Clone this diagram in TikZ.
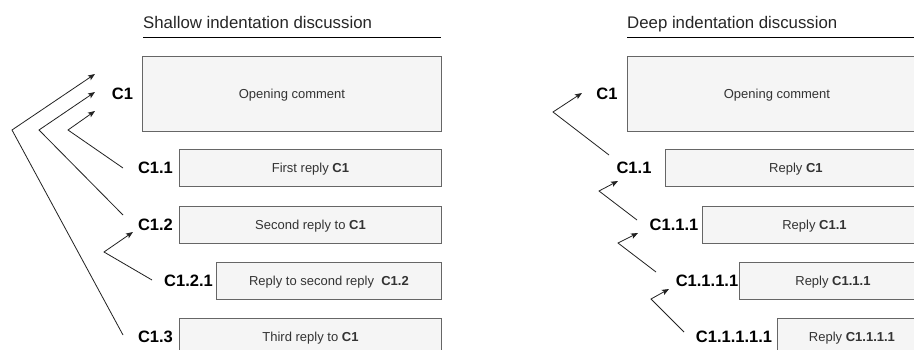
\documentclass[tikz,border=0pt]{standalone}
\usepackage{fontspec}
\setmainfont{Liberation Sans}
\usetikzlibrary{arrows.meta}
\definecolor{boxfill}{HTML}{F5F5F5}
\definecolor{boxline}{HTML}{666666}
\definecolor{boxtext}{HTML}{333333}
\definecolor{linkc}{HTML}{222222}
\begin{document}
\begin{tikzpicture}[x=1pt,y=-1pt,
  cbox/.style={draw=boxline, fill=boxfill, line width=0.9pt, inner sep=0pt, anchor=north west,
    text=boxtext, font=\fontsize{13}{15}\selectfont, text height=9.4pt, text depth=0pt},
  clabel/.style={font=\fontsize{16.5}{18}\selectfont\bfseries, inner sep=0pt, text height=11.8pt, text depth=0pt},
  ttl/.style={font=\fontsize{16.8}{19}\selectfont, anchor=base west, inner sep=0pt, text=black!85},
  rule/.style={draw=black, line width=0.9pt},
  link/.style={draw=linkc, line width=0.8pt, -{Stealth[length=7pt,width=5.5pt,inset=1.5pt]}}]
\useasboundingbox (0,0) rectangle (914,350);
\clip (0,0) rectangle (914,350);
\fill[white] (0,0) rectangle (914,350);

% ---------- Left: shallow ----------
\node[ttl] (tl) at (143,29) {Shallow indentation discussion};
\coordinate (tla) at (143,37);
\coordinate (tlb) at (441,37);
\draw[rule] (tla) -- (tlb);

\node[cbox, minimum width=299pt, minimum height=75pt] (bl1) at (142,56) {Opening comment};
\node[cbox, minimum width=262pt, minimum height=37pt] (bl11) at (179,149) {First reply \textbf{C1}};
\node[cbox, minimum width=262pt, minimum height=37pt] (bl12) at (179,206) {Second reply to \textbf{C1}};
\node[cbox, minimum width=225pt, minimum height=37pt] (bl121) at (216,262) {Reply to second reply\ \ \textbf{C1.2}};
\node[cbox, minimum width=262pt, minimum height=37pt] (bl13) at (179,318) {Third reply to \textbf{C1}};

\node[clabel] (ll1) at (122.5,94) {C1};
\node[clabel] (ll11) at (155.5,168) {C1.1};
\node[clabel] (ll12) at (155.5,225) {C1.2};
\node[clabel] (ll121) at (188.5,281) {C1.2.1};
\node[clabel] (ll13) at (155.5,337) {C1.3};

\coordinate (a1s) at (123,335); \coordinate (a1k) at (12,130); \coordinate (a1t) at (95,74);
\coordinate (a2s) at (123,215); \coordinate (a2k) at (39,130); \coordinate (a2t) at (95,92);
\coordinate (a3s) at (123,168); \coordinate (a3k) at (68,130); \coordinate (a3t) at (95,111);
\coordinate (a4s) at (152,280); \coordinate (a4k) at (104,252); \coordinate (a4t) at (133,232);
\draw[link] (a1s) -- (a1k) -- (a1t);
\draw[link] (a2s) -- (a2k) -- (a2t);
\draw[link] (a3s) -- (a3k) -- (a3t);
\draw[link] (a4s) -- (a4k) -- (a4t);

% ---------- Right: deep ----------
\node[ttl] (tr) at (627,29) {Deep indentation discussion};
\coordinate (tra) at (627,37);
\coordinate (trb) at (926,37);
\draw[rule] (tra) -- (trb);

\node[cbox, minimum width=299pt, minimum height=75pt] (br1) at (627,56) {Opening comment};
\node[cbox, minimum width=261pt, minimum height=37pt] (br11) at (665,149) {Reply \textbf{C1}};
\node[cbox, minimum width=224pt, minimum height=37pt] (br111) at (702,206) {Reply \textbf{C1.1}};
\node[cbox, minimum width=187pt, minimum height=37pt] (br1111) at (739,262) {Reply \textbf{C1.1.1}};
\node[cbox, minimum width=149pt, minimum height=37pt] (br11111) at (777,318) {Reply \textbf{C1.1.1.1}};

\node[clabel] (lr1) at (607,94) {C1};
\node[clabel] (lr11) at (634,168) {C1.1};
\node[clabel] (lr111) at (674,225) {C1.1.1};
\node[clabel] (lr1111) at (707,281) {C1.1.1.1};
\node[clabel] (lr11111) at (734,337) {C1.1.1.1.1};

\coordinate (b1s) at (609,155); \coordinate (b1k) at (553,112); \coordinate (b1t) at (582,93);
\coordinate (b2s) at (637,220); \coordinate (b2k) at (599,191); \coordinate (b2t) at (618,181);
\coordinate (b3s) at (656,272); \coordinate (b3k) at (618,243); \coordinate (b3t) at (638,233);
\coordinate (b4s) at (684,332); \coordinate (b4k) at (651,299); \coordinate (b4t) at (669,289);
\draw[link] (b1s) -- (b1k) -- (b1t);
\draw[link] (b2s) -- (b2k) -- (b2t);
\draw[link] (b3s) -- (b3k) -- (b3t);
\draw[link] (b4s) -- (b4k) -- (b4t);
\end{tikzpicture}
\end{document}
